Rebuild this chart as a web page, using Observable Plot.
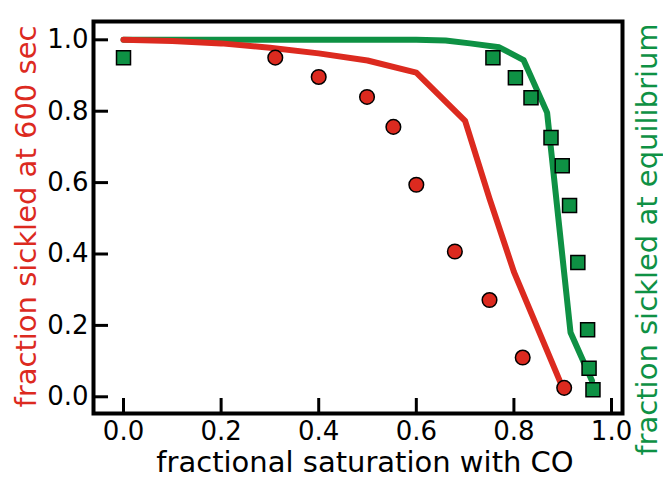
<!DOCTYPE html>
<html>
<head>
<meta charset="utf-8">
<script src="https://cdn.jsdelivr.net/npm/d3@7"></script>
<script src="https://cdn.jsdelivr.net/npm/@observablehq/plot@0.6"></script>
<style>
  html, body { margin: 0; padding: 0; background: #fff; }
  #chart { width: 663px; height: 478px; }
</style>
</head>
<body>
<div id="chart"></div>
<script>
// Measured data points: fraction sickled at 600 sec (red circles)
const redX = [0.311, 0.400, 0.499, 0.553, 0.600, 0.679, 0.750, 0.818, 0.903];
const redY = [0.950, 0.896, 0.840, 0.756, 0.594, 0.407, 0.271, 0.110, 0.025];
// Measured data points: fraction sickled at equilibrium (green squares)
const greenX = [0.000, 0.757, 0.803, 0.835, 0.876, 0.899, 0.914, 0.931, 0.951, 0.954, 0.962];
const greenY = [0.950, 0.950, 0.894, 0.838, 0.726, 0.647, 0.536, 0.376, 0.188, 0.080, 0.020];
// Model curves
const redLineX = [0, 0.1, 0.2, 0.3, 0.4, 0.5, 0.6, 0.7, 0.75, 0.8, 0.9];
const redLineY = [1.0, 0.997, 0.99, 0.978, 0.962, 0.942, 0.908, 0.773, 0.555, 0.35, 0.025];
const greenLineX = [0, 0.6, 0.66, 0.71, 0.77, 0.82, 0.868, 0.916, 0.96];
const greenLineY = [1.0, 1.0, 0.998, 0.99, 0.979, 0.943, 0.796, 0.18, 0.045];
// Ticks and labels
const xTicks = [0, 0.2, 0.4, 0.6, 0.8, 1.0];
const yTicks = [0, 0.2, 0.4, 0.6, 0.8, 1.0];
const xLabel = "fractional saturation with CO";
const yLabelLeft = "fraction sickled at 600 sec";
const yLabelRight = "fraction sickled at equilibrium";

const RED = "#dc2a1f";
const GREEN = "#0e9144";

const zip = (xs, ys) => xs.map((x, i) => ({x, y: ys[i]}));
const redPts = zip(redX, redY);
const greenPts = zip(greenX, greenY);
const redLine = zip(redLineX, redLineY);
const greenLine = zip(greenLineX, greenLineY);

const W = 663, H = 478;
const mL = 93, mR = 41, mT = 21, mB = 65;
const frameW = W - mL - mR, frameH = H - mT - mB;

const chart = Plot.plot({
  width: W,
  height: H,
  marginLeft: mL,
  marginRight: mR,
  marginTop: mT,
  marginBottom: mB,
  style: {fontFamily: "'DejaVu Sans', sans-serif", background: "#fff", color: "#000"},
  x: {domain: [-0.0615, 1.0225], axis: null},
  y: {domain: [-0.0468, 1.0513], axis: null},
  marks: [
    Plot.axisX({ticks: xTicks, tickSize: 0, tickPadding: 8, tickFormat: d3.format(".1f"), fontSize: 26, label: null}),
    Plot.axisY({ticks: yTicks, tickSize: 0, tickPadding: 5, tickFormat: d3.format(".1f"), fontSize: 26, label: null}),
    Plot.tickX(xTicks, {x: d => d, stroke: "#000", strokeWidth: 3, insetTop: frameH - 15}),
    Plot.tickY(yTicks, {y: d => d, stroke: "#000", strokeWidth: 3, insetRight: frameW - 15}),
    Plot.line(greenLine, {x: "x", y: "y", stroke: GREEN, strokeWidth: 6}),
    Plot.line(redLine, {x: "x", y: "y", stroke: RED, strokeWidth: 6}),
    Plot.dot(greenPts, {x: "x", y: "y", symbol: "square", r: 7.9, fill: GREEN, stroke: "#000", strokeWidth: 1.5}),
    Plot.dot(redPts, {x: "x", y: "y", symbol: "circle", r: 7.3, fill: RED, stroke: "#000", strokeWidth: 1.5}),
    Plot.frame({stroke: "#000", strokeWidth: 4}),
    Plot.text([xLabel], {text: d => d, frameAnchor: "bottom", lineAnchor: "middle", textAnchor: "middle", dy: 49, dx: 7, fontSize: 29, fill: "#000"}),
    Plot.text([yLabelLeft], {text: d => d, frameAnchor: "left", rotate: -90, lineAnchor: "middle", textAnchor: "middle", dx: -67, dy: -1, fontSize: 29, fill: RED}),
    Plot.text([yLabelRight], {text: d => d, frameAnchor: "right", rotate: -90, lineAnchor: "middle", textAnchor: "middle", dx: 25, dy: 22, fontSize: 29, fill: GREEN})
  ]
});
document.getElementById("chart").appendChild(chart);
</script>
</body>
</html>
